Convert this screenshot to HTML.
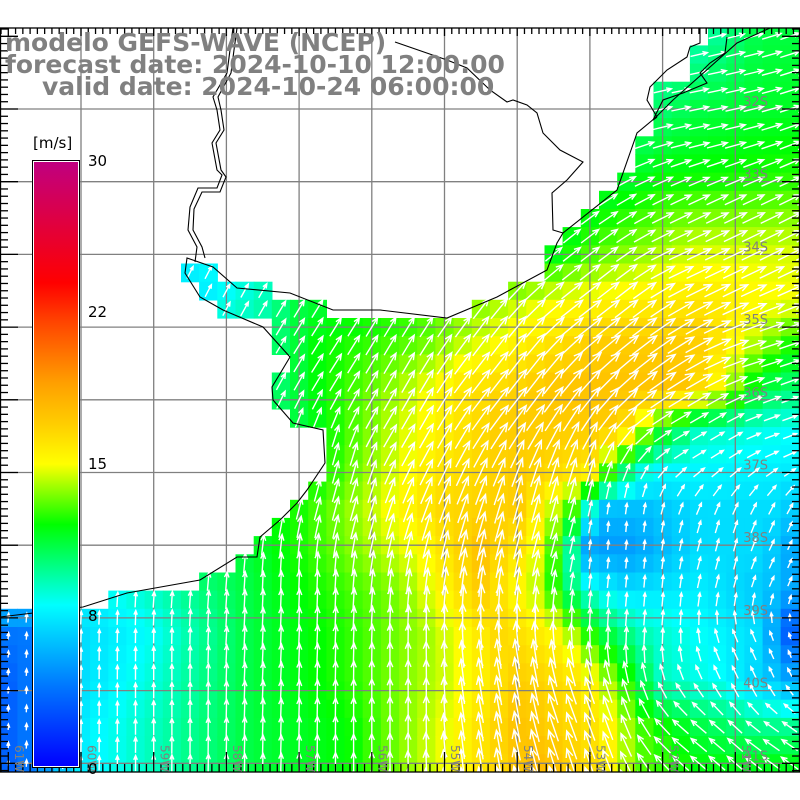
<!DOCTYPE html>
<html><head><meta charset="utf-8">
<style>
html,body{margin:0;padding:0;background:#fff;}
#c{position:absolute;left:0;top:0;width:800px;height:800px;overflow:hidden;}
</style></head>
<body>
<div id="c">
<svg id="s" width="800" height="800" xmlns="http://www.w3.org/2000/svg">
<defs><clipPath id="pc"><rect x="0" y="28" width="800" height="744"/></clipPath></defs>
<g id="cells" clip-path="url(#pc)"></g>
<g id="grid" stroke="#808080" stroke-width="1.3" fill="none"></g>
<g id="arrows" stroke="#fff" stroke-width="1.4" fill="none" clip-path="url(#pc)"></g>
<g id="coast" stroke="#000" stroke-width="1.1" fill="none"></g>
<g id="ticks" stroke="#000" stroke-width="1.3"></g>
<g id="labs" fill="#808080" font-family="DejaVu Sans, sans-serif" font-size="12"></g>
<g id="cb"></g>
<g font-family="DejaVu Sans, Liberation Sans, sans-serif" font-weight="bold" font-size="25" fill="#808080">
<text x="5" y="51">modelo GEFS-WAVE (NCEP)</text>
<text x="5" y="73">forecast date: 2024-10-10 12:00:00</text>
<text x="42" y="95">valid date: 2024-10-24 06:00:00</text>
</g>
</svg>
</div>
<script>
const NS="http://www.w3.org/2000/svg";
function el(p,t,a){const e=document.createElementNS(NS,t);for(const k in a)e.setAttribute(k,a[k]);p.appendChild(e);return e;}
const $=id=>document.getElementById(id);
const stops=[[0,0,0,255],[4,0,120,255],[8,0,255,255],[10,0,255,128],[12,0,255,0],[13.5,128,255,0],[15,255,255,0],[17,255,205,0],[19,255,160,0],[22,255,70,0],[24,255,0,0],[30,192,0,128]];
function col(v){v=Math.max(0,Math.min(30,v));for(let i=1;i<stops.length;i++){if(v<=stops[i][0]){const a=stops[i-1],b=stops[i];const t=(v-a[0])/(b[0]-a[0]);return `rgb(${Math.round(a[1]+t*(b[1]-a[1]))},${Math.round(a[2]+t*(b[2]-a[2]))},${Math.round(a[3]+t*(b[3]-a[3]))})`;}}return "rgb(192,0,128)";}
const R=[
[28,[[0,9],[650,9],[700,9],[760,11],[800,11]]],
[110,[[0,10],[640,10],[700,11],[800,11.5]]],
[180,[[0,11],[600,11],[660,12],[800,12.5]]],
[250,[[0,8],[200,8],[540,11],[600,13],[700,14.5],[800,14.5]]],
[300,[[190,7],[260,9],[300,11],[400,12],[480,13.5],[560,15],[700,16],[780,15],[800,15]]],
[340,[[270,10],[320,12],[420,13],[500,15],[600,17],[700,17],[760,14],[800,12]]],
[390,[[270,10],[320,12],[400,14],[460,16],[560,17.5],[680,17.5],[720,15],[760,11],[800,10]]],
[430,[[300,11],[340,12.5],[420,15],[500,17],[620,17],[660,12],[700,9],[800,8]]],
[470,[[320,12],[360,13.5],[440,16],[520,17],[590,16],[620,11],[650,8],[800,7.5]]],
[510,[[290,12],[360,14],[440,16.5],[520,17],[570,13],[600,6],[640,6],[700,7],[780,7],[800,6]]],
[550,[[240,11],[330,13],[420,15],[480,17.5],[530,15.5],[560,12],[590,5],[630,5],[700,7],[760,7],[800,5]]],
[590,[[100,8],[200,10],[300,12],[400,13.5],[480,17],[540,14],[580,9],[620,7],[700,7.5],[780,6],[800,5]]],
[630,[[0,4],[30,4],[80,7],[150,8],[250,11],[350,12.5],[430,14],[500,16.5],[560,15],[600,11],[640,9],[700,8],[760,7],[790,3],[800,3]]],
[680,[[0,3],[30,4],[80,7],[150,8.5],[250,11],[350,12.5],[450,14.5],[520,17],[580,16],[620,13],[660,9],[720,8],[780,6],[800,5]]],
[730,[[0,3],[30,4],[80,7.5],[150,9],[250,11],[350,12],[450,15],[520,17.5],[600,16],[640,13],[700,11],[760,10],[800,10]]],
[772,[[0,3],[30,4],[80,7.5],[150,9],[250,11],[350,12],[450,15],[540,18],[600,16],[640,13],[700,12],[800,12]]]];
function rowv(r,x){const p=r;if(x<=p[0][0])return p[0][1];for(let i=1;i<p.length;i++)if(x<=p[i][0]){const t=(x-p[i-1][0])/(p[i][0]-p[i-1][0]);return p[i-1][1]+t*(p[i][1]-p[i-1][1]);}return p[p.length-1][1];}
function speed(x,y){if(y<=R[0][0])return rowv(R[0][1],x);for(let i=1;i<R.length;i++)if(y<=R[i][0]){const t=(y-R[i-1][0])/(R[i][0]-R[i-1][0]);return rowv(R[i-1][1],x)*(1-t)+rowv(R[i][1],x)*t;}return rowv(R[R.length-1][1],x);}
const D=[[700,100,78],[700,250,65],[600,300,52],[500,380,38],[400,420,30],[330,350,32],[330,470,15],[300,600,2],[150,700,0],[400,700,0],[500,700,-10],[580,720,-20],[700,740,-50],[780,740,-55],[750,660,-25],[650,600,5],[620,540,5],[700,430,60],[780,420,70],[770,360,72],[720,560,15],[560,520,15],[780,560,25]];
function idw(pts,x,y,f){let sw=0,s=0;for(const p of pts){const d2=(p[0]-x)**2+(p[1]-y)**2+1;const w=1/(d2*Math.sqrt(d2));sw+=w;s+=w*f(p);}return s/sw;}
const mask=[[0,617],[83,607],[127,593],[200,580],[237,557],[257,557],[260,537],[280,520],[297,503],[307,490],[325,463],[323,430],[293,423],[273,400],[272,387],[290,357],[263,327],[223,310],[200,297],[185,273],[187,258],[213,267],[237,288],[290,293],[333,310],[360,320],[380,310],[447,318],[497,297],[547,270],[557,243],[563,236],[583,220],[600,200],[617,180],[636,150],[655,118],[655,80],[690,80],[690,45],[710,45],[710,28],[0,28]];
function inPoly(x,y,p){let c=false;for(let i=0,j=p.length-1;i<p.length;j=i++){const [xi,yi]=p[i],[xj,yj]=p[j];if(((yi>y)!=(yj>y))&&(x<(xj-xi)*(y-yi)/(yj-yi)+xi))c=!c;}return c;}
const cs=72.7/4;
const gc=$("cells"),ga=$("arrows");
for(let i=-5;i<50;i++){const cx=81+i*cs;if(cx<-10||cx>810)continue;
 for(let j=-5;j<40;j++){const cy=109+j*cs;if(cy<20||cy>785)continue;
  if(inPoly(cx,cy,mask))continue;
  const v=speed(cx,cy);
  el(gc,"rect",{x:(cx-cs/2).toFixed(1),y:(cy-cs/2).toFixed(1),width:(cs+0.6).toFixed(1),height:(cs+0.6).toFixed(1),fill:col(v)});
  const sx=idw(D,cx,cy,p=>Math.sin(p[2]*Math.PI/180)),sy=idw(D,cx,cy,p=>Math.cos(p[2]*Math.PI/180));
  const a=Math.atan2(sx,sy);const L=Math.min(32,v*1.8);
  const dx=Math.sin(a),dy=-Math.cos(a);
  const x0=cx-dx*L/2,y0=cy-dy*L/2,x1=cx+dx*L/2,y1=cy+dy*L/2;
  const h=Math.max(4,L*0.3);
  const ax=x1-h*Math.sin(a-0.4),ay=y1+h*Math.cos(a-0.4),bx=x1-h*Math.sin(a+0.4),by=y1+h*Math.cos(a+0.4);
  el(ga,"path",{d:`M${x0.toFixed(1)},${y0.toFixed(1)}L${x1.toFixed(1)},${y1.toFixed(1)}M${ax.toFixed(1)},${ay.toFixed(1)}L${x1.toFixed(1)},${y1.toFixed(1)}L${bx.toFixed(1)},${by.toFixed(1)}`});
 }}
const g=$("grid");
for(let k=0;k<11;k++){const x=81+k*72.7;el(g,"line",{x1:x,y1:28,x2:x,y2:772});}
for(let k=0;k<10;k++){const y=109+k*72.7;el(g,"line",{x1:0,y1:y,x2:800,y2:y});}
const co=$("coast");
function pl(pts){el(co,"polyline",{points:pts.map(p=>p.join(",")).join(" ")});}
pl(mask.slice(0,25).concat([[380,310],[447,318],[497,297],[547,270],[557,243],[563,233],[617,190],[637,133],[655,118],[673,100],[737,43],[770,28]]));
pl([[233,28],[230,50],[227,73],[213,97],[217,110],[220,130],[212,143],[217,170],[222,175],[217,188],[198,188],[190,207],[188,230],[197,247],[195,262]]);
pl([[237,28],[234,50],[231,73],[218,97],[221,110],[224,130],[216,143],[221,170],[226,177],[220,192],[202,192],[194,209],[193,230],[202,247],[205,258]]);
pl([[395,42],[447,60],[467,68],[490,90],[507,102],[513,100],[527,105],[537,113],[543,133],[560,150],[583,162],[567,180],[552,193],[553,230],[563,233]]);
pl([[727,37],[725,53],[710,63],[700,73],[707,83],[683,93],[663,100],[653,120],[657,117]]);
pl([[700,28],[700,43],[690,47],[687,57],[667,70],[650,87],[647,100],[657,117]]);
const t=$("ticks");
el(t,"rect",{x:0.5,y:28,width:799,height:744,fill:"none",stroke:"#000"});
for(let k=-12;k<110;k++){const x=81+k*72.7/10;if(x<0||x>800)continue;const maj=k%10==0;
 el(t,"line",{x1:x,y1:28,x2:x,y2:maj?36:34});el(t,"line",{x1:x,y1:772,x2:x,y2:maj?752:764});}
for(let k=-12;k<100;k++){const y=109+k*72.7/10;if(y<28||y>772)continue;const maj=k%10==0;
 el(t,"line",{x1:0,y1:y,x2:maj?18:8,y2:y});el(t,"line",{x1:800,y1:y,x2:maj?782:792,y2:y});}
const lb=$("labs");
["32S","33S","34S","35S","36S","37S","38S","39S","40S","41S"].forEach((s,k)=>{const e=el(lb,"text",{x:768,y:109+k*72.7-3,"text-anchor":"end","font-size":"13"});e.textContent=s;});
["61W","60W","59W","58W","57W","56W","55W","54W","53W","52W","51W"].forEach((s,k)=>{const x=8+k*72.7+7;const e=el(lb,"text",{transform:`translate(${x},745) rotate(90)`,"font-size":"12"});e.textContent=s;});
const cb=$("cb");
const defs=el(cb,"defs",{});const lg=el(defs,"linearGradient",{id:"lg",x1:0,y1:1,x2:0,y2:0});
for(let v=0;v<=30;v+=0.5)el(lg,"stop",{offset:(v/30).toFixed(4),"stop-color":col(v)});
el(cb,"rect",{x:32.5,y:160.5,width:47,height:607,fill:"#fff",stroke:"#000"});
el(cb,"rect",{x:34,y:162,width:44,height:604,fill:"url(#lg)"});
[["30",160],["22",311],["15",463],["8",615],["0",768]].forEach(([s,y])=>{const e=el(cb,"text",{x:88,y:y+6,"font-family":"DejaVu Sans, sans-serif","font-size":"15",fill:"#000"});e.textContent=s;});
const u=el(cb,"text",{x:33,y:148,"font-family":"DejaVu Sans, sans-serif","font-size":"15",fill:"#000"});u.textContent="[m/s]";
</script>
</body></html>
